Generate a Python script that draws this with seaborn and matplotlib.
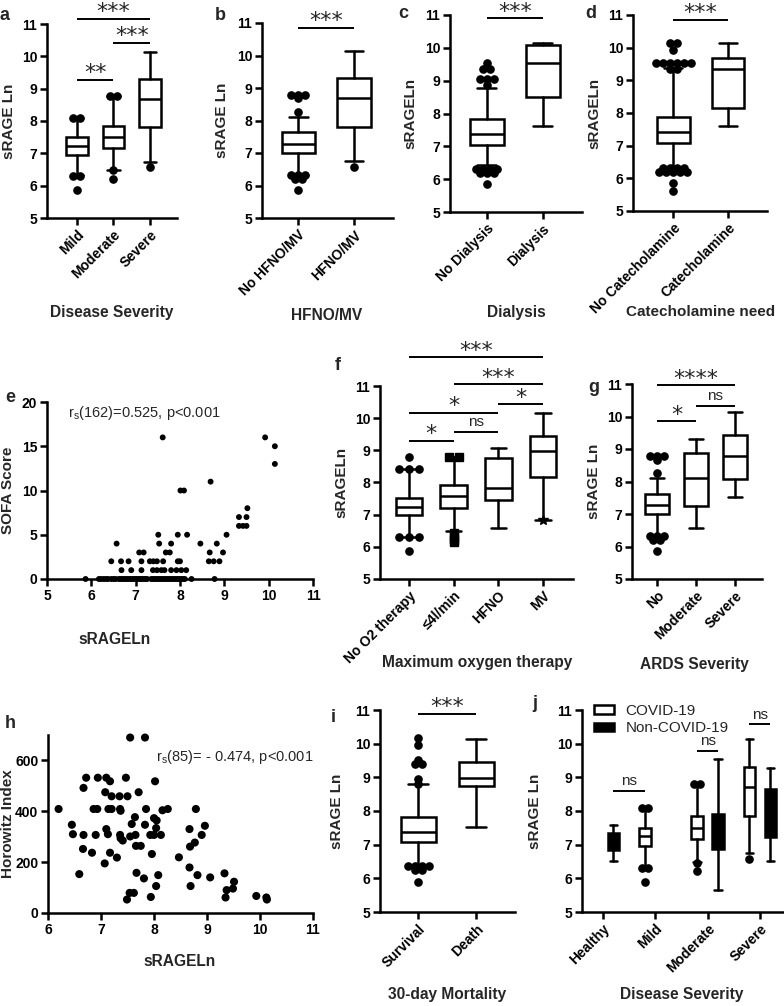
import numpy as np
import pandas as pd
import matplotlib
matplotlib.use("Agg")
import matplotlib.pyplot as plt
import seaborn as sns
from matplotlib.patches import Patch

sns.set_style("ticks")
plt.rcParams['font.family'] = ['Liberation Sans', 'DejaVu Sans']
plt.rcParams['font.weight'] = 'bold'
plt.rcParams['axes.labelweight'] = 'bold'

# ---------------- DATA ----------------
# a: Disease severity
a_cats = ["Mild", "Moderate", "Severe"]
a_med = [7.22, 7.49, 8.68]
a_q1 = [6.96, 7.16, 7.81]
a_q3 = [7.50, 7.86, 9.30]
a_wlo = [6.34, 6.47, 6.73]
a_whi = [8.09, 8.76, 10.13]
a_out = [[8.1, 8.1, 6.3, 6.3, 5.88], [8.78, 8.78, 6.47, 6.2], [6.58]]
a_sig = [(0, 1, 9.28, "**"), (1, 2, 10.41, "***"), (0, 2, 11.15, "***")]

# b: HFNO/MV
b_cats = ["No HFNO/MV", "HFNO/MV"]
b_med = [7.28, 8.68]
b_q1 = [7.01, 7.81]
b_q3 = [7.64, 9.31]
b_wlo = [6.33, 6.76]
b_whi = [8.10, 10.13]
b_out = [[8.78, 8.78, 8.78, 8.68, 8.27, 6.32, 6.32, 6.32, 6.19, 6.19, 5.87], [6.58]]
b_sig = [(0, 1, 10.86, "***")]

# c: Dialysis
c_cats = ["No Dialysis", "Dialysis"]
c_med = [7.39, 9.54]
c_q1 = [7.05, 8.51]
c_q3 = [7.83, 10.08]
c_wlo = [6.44, 7.61]
c_whi = [8.79, 10.16]
c_out = [[9.54, 9.35, 9.35, 9.04, 9.04, 9.04, 8.86, 6.32, 6.32, 6.32, 6.32,
          6.19, 6.19, 6.19, 5.86], []]
c_sig = [(0, 1, 10.90, "***")]

# d: Catecholamine
d_cats = ["No Catecholamine", "Catecholamine"]
d_med = [7.42, 9.34]
d_q1 = [7.09, 8.14]
d_q3 = [7.88, 9.67]
d_wlo = [6.30, 7.60]
d_whi = [9.38, 10.13]
d_out = [[10.13, 10.13, 9.93, 9.54, 9.54, 9.54, 9.54, 9.54, 9.54, 9.36, 9.36,
          6.32, 6.32, 6.32, 6.32, 6.2, 6.2, 6.2, 6.2, 6.2, 5.86, 5.61], []]
d_sig = [(0, 1, 10.85, "***")]

# e: SOFA score vs sRAGELn
e_srage = [5.87, 6.17, 6.22, 6.28, 6.33, 6.38, 6.45, 6.50, 6.55, 6.62, 6.66, 6.70,
           6.74, 6.78, 6.82, 6.86, 6.90, 6.94, 6.98, 7.02, 7.06, 7.10, 7.14, 7.18,
           7.22, 7.26, 7.35, 7.39, 7.43, 7.47, 7.51, 7.55, 7.59, 7.63, 7.67, 7.71,
           7.75, 7.79, 7.83, 7.87, 7.91, 7.95, 7.99, 8.03, 8.07, 8.11, 8.26, 8.78,
           6.68, 6.90, 7.13, 7.39, 7.48, 7.58, 7.65, 7.80, 7.92, 8.03, 8.14,
           6.45, 6.67, 6.84, 7.13, 7.32, 7.40, 7.48, 7.62, 7.95, 8.00, 8.65, 8.76, 8.89,
           7.08, 7.18, 7.68, 7.77, 8.67, 8.97,
           6.57, 7.53, 7.80, 8.46, 8.83,
           7.51, 7.95, 8.16, 9.05,
           9.33, 9.42, 9.50,
           9.33, 9.50,
           9.52,
           8.01, 8.09,
           8.69,
           10.14,
           10.14,
           7.61, 9.92]
e_sofa = ([0] * 48 + [1] * 11 + [2] * 13 + [3] * 6 + [4] * 5 + [5] * 4 + [6] * 3 +
          [7] * 2 + [8] + [10] * 2 + [11] + [13] + [15] + [16] * 2)

# f: Maximum oxygen therapy
f_cats = ["No O2 therapy", "\u22644l/min", "HFNO", "MV"]
f_med = [7.25, 7.58, 7.84, 8.98]
f_q1 = [6.99, 7.22, 7.46, 8.16]
f_q3 = [7.51, 7.92, 8.75, 9.46]
f_wlo = [6.32, 6.50, 6.60, 6.83]
f_whi = [8.41, 8.80, 9.08, 10.17]
f_out = [[8.8, 8.41, 8.41, 8.41, 6.32, 6.32, 6.32, 5.88],
         [8.8, 8.8, 6.42, 6.32, 6.22, 6.15], [], [6.83]]
f_markers = ["o", "s", "o", "*"]
f_sig = [(0, 1, 9.30, "*"), (1, 2, 9.58, "ns"), (0, 2, 10.17, "*"),
         (2, 3, 10.43, "*"), (1, 3, 11.05, "***"), (0, 3, 11.89, "***")]

# g: ARDS severity
g_cats = ["No", "Moderate", "Severe"]
g_med = [7.29, 8.12, 8.77]
g_q1 = [7.00, 7.26, 8.08]
g_q3 = [7.62, 8.87, 9.44]
g_wlo = [6.35, 6.58, 7.51]
g_whi = [8.12, 9.32, 10.13]
g_out = [[8.77, 8.77, 8.77, 8.65, 8.26, 6.32, 6.32, 6.32, 6.2, 6.2, 5.87], [], []]
g_sig = [(0, 1, 9.85, "*"), (1, 2, 10.33, "ns"), (0, 2, 10.96, "****")]

# h: Horowitz index vs sRAGELn
h_srage = [6.20, 6.45, 6.47, 6.67, 6.66, 6.59, 6.72, 6.67, 6.83, 6.86, 6.93, 6.90,
           6.94, 7.07, 7.10, 7.08, 7.10, 7.13, 7.14, 7.20, 7.17, 7.20, 7.17, 7.30,
           7.35, 7.36, 7.37, 7.36, 7.37, 7.41, 7.47, 7.50, 7.49, 7.54, 7.55, 7.55,
           7.58, 7.62, 7.64, 7.65, 7.66, 7.67, 7.71, 7.75, 7.81, 7.83, 7.83, 7.85,
           7.94, 7.96, 7.93, 8.00, 8.00, 8.02, 8.04, 8.04, 8.05, 8.08, 8.13, 8.16,
           8.26, 8.47, 8.67, 8.67, 8.69, 8.68, 8.77, 8.79, 8.82, 8.90, 8.96, 9.06,
           9.33, 9.35, 9.37, 9.49, 9.51, 9.93, 10.12, 10.13]
h_horowitz = [409, 347, 310, 307, 252, 153, 532, 492, 237, 409, 409, 307,
              532, 195, 532, 475, 330, 310, 409, 409, 518, 459, 237, 218,
              459, 409, 402, 307, 294, 285, 532, 459, 53, 79, 690, 301,
              350, 79, 377, 307, 264, 158, 475, 264, 136, 690, 347, 409,
              63, 232, 307, 307, 373, 518, 106, 334, 364, 149, 307, 404,
              409, 219, 179, 330, 106, 261, 277, 409, 149, 307, 343, 140,
              156, 61, 90, 96, 123, 67, 61, 53]

# i: 30-day mortality
i_cats = ["Survival", "Death"]
i_med = [7.37, 8.99]
i_q1 = [7.07, 8.75]
i_q3 = [7.81, 9.45]
i_wlo = [6.39, 7.52]
i_whi = [8.81, 10.13]
i_out = [[10.16, 9.96, 9.52, 9.40, 9.40, 8.94, 8.81, 6.36, 6.36, 6.36, 6.36,
          6.24, 6.24, 5.89], []]
i_sig = [(0, 1, 10.88, "***")]

# j: COVID vs non-COVID by disease severity
j_cats = ["Healthy", "Mild", "Moderate", "Severe"]
j_hue_levels = ["COVID-19", "Non-COVID-19"]
j_group = ["Healthy", "Mild", "Moderate", "Moderate", "Severe", "Severe"]
j_hue = ["Non-COVID-19", "COVID-19", "COVID-19", "Non-COVID-19", "COVID-19", "Non-COVID-19"]
j_med = [7.10, 7.25, 7.49, 7.40, 8.70, 7.95]
j_q1 = [6.85, 6.97, 7.17, 6.87, 7.84, 7.23]
j_q3 = [7.34, 7.49, 7.86, 7.92, 9.30, 8.65]
j_wlo = [6.52, 6.30, 6.50, 5.66, 6.75, 6.52]
j_whi = [7.59, 8.10, 8.80, 9.55, 10.13, 9.27]
j_out = [[], [8.1, 8.1, 6.3, 6.3, 5.88], [8.8, 8.8, 6.47, 6.21], [], [6.58], []]
j_sig = [(0, 1, 8.60, "ns"), (2, 3, 9.79, "ns"), (4, 5, 10.58, "ns")]

# ---------------- LAYOUT ----------------
W, H = 784, 1006
fig = plt.figure(figsize=(W / 100, H / 100), dpi=100)
LW = 1.8


def add_ax(x0, y0, x1, y1):
    return fig.add_axes([x0 / W, 1 - y1 / H, (x1 - x0) / W, (y1 - y0) / H])


def style(ax):
    sns.despine(ax=ax)
    for s in ["left", "bottom"]:
        ax.spines[s].set_linewidth(LW)
        ax.spines[s].set_color("black")
    ax.tick_params(width=LW, length=5, color="black", labelsize=10, pad=2,
                   labelcolor="black")


def px_per_unit(ax):
    bb = ax.get_position()
    lo, hi = ax.get_xlim()
    return bb.width * W / (hi - lo)


def set_labels(ax, xlabel, xpos, ylabel, ylx, letter, letpos, xlsize=11.2):
    ax.set_xlabel(xlabel, fontsize=xlsize, va="center", ha="center")
    ax.xaxis.set_label_coords(xpos[0] / W, 1 - xpos[1] / H, transform=fig.transFigure)
    ax.set_ylabel(ylabel, fontsize=11, va="center", ha="center")
    bb = ax.get_position()
    yc = bb.y0 + bb.height / 2
    ax.yaxis.set_label_coords(ylx / W, yc, transform=fig.transFigure)
    fig.text(letpos[0] / W, 1 - letpos[1] / H, letter, fontsize=13, fontweight="bold",
             ha="center", va="center")


def draw_boxes(ax, pos, med, q1, q3, wlo, whi, outs, width, capw, faces, markers=None,
               spacing_px=7):
    stats = [dict(med=m, q1=a, q3=b, whislo=l, whishi=h, fliers=[])
             for m, a, b, l, h in zip(med, q1, q3, wlo, whi)]
    res = ax.bxp(stats, positions=pos, widths=width, capwidths=capw, showfliers=False,
                 patch_artist=True, manage_ticks=False,
                 boxprops=dict(linewidth=LW, edgecolor="black"),
                 whiskerprops=dict(linewidth=LW, color="black"),
                 capprops=dict(linewidth=LW, color="black"),
                 medianprops=dict(linewidth=LW, color="black"))
    for patch, fc in zip(res["boxes"], faces):
        patch.set_facecolor(fc)
    if markers is None:
        markers = ["o"] * len(pos)
    sp = spacing_px / px_per_unit(ax)
    for p, vals, mk in zip(pos, outs, markers):
        if not vals:
            continue
        vals = np.asarray(vals, dtype=float)
        for v in np.unique(vals):
            n = int(np.sum(vals == v))
            offs = (np.arange(n) - (n - 1) / 2) * sp
            ms = 7.5 if mk == "*" else 5.2
            ax.plot(p + offs, [v] * n, ls="none", marker=mk, ms=ms, color="black",
                    mec="black", clip_on=False, zorder=5)


def draw_sig(ax, x1, x2, y, txt):
    ax.plot([x1, x2], [y, y], color="black", lw=1.4, clip_on=False, solid_capstyle="butt")
    if "*" in txt:
        ax.annotate(txt, xy=((x1 + x2) / 2, y), xytext=(0, 0.5), textcoords="offset points",
                    ha="center", va="baseline", fontsize=16, fontweight="normal",
                    family="DejaVu Sans", annotation_clip=False)
    else:
        ax.annotate(txt, xy=((x1 + x2) / 2, y), xytext=(0, 4), textcoords="offset points",
                    ha="center", va="baseline", fontsize=11, fontweight="normal",
                    annotation_clip=False)


def box_panel(rect, cats, med, q1, q3, wlo, whi, outs, sig, xlim, xlabel, xpos, ylabel,
              ylx, letter, letpos, markers=None, spacing_px=7, xlsize=11.2):
    ax = add_ax(*rect)
    ax.set_xlim(*xlim)
    ax.set_ylim(5, 11)
    ax.set_yticks(range(5, 12))
    pos = list(range(len(cats)))
    draw_boxes(ax, pos, med, q1, q3, wlo, whi, outs, 0.6, 0.34, ["white"] * len(cats),
               markers, spacing_px)
    for i1, i2, y, t in sig:
        draw_sig(ax, pos[i1], pos[i2], y, t)
    ax.set_xticks(pos)
    ax.set_xticklabels(cats, rotation=45, ha="right", rotation_mode="anchor", fontsize=10.8)
    style(ax)
    set_labels(ax, xlabel, xpos, ylabel, ylx, letter, letpos, xlsize)
    return ax


# a
box_panel((47, 24, 177, 218), a_cats, a_med, a_q1, a_q3, a_wlo, a_whi, a_out, a_sig,
          (-0.82, 2.74), "Disease Severity", (112, 313), "sRAGE Ln", 9, "a", (5, 16))
# b
box_panel((262, 23, 393, 218), b_cats, b_med, b_q1, b_q3, b_wlo, b_whi, b_out, b_sig,
          (-0.65, 1.7), "HFNO/MV", (327, 315), "sRAGE Ln", 222, "b", (220, 15))
# c
box_panel((450, 15, 582, 212), c_cats, c_med, c_q1, c_q3, c_wlo, c_whi, c_out, c_sig,
          (-0.66, 1.7), "Dialysis", (516, 313), "sRAGELn", 410, "c", (403, 14))
# d
box_panel((633, 15, 767, 211), d_cats, d_med, d_q1, d_q3, d_wlo, d_whi, d_out, d_sig,
          (-0.73, 1.71), "Catecholamine need", (701, 312), "sRAGELn", 594, "d", (591, 13),
          xlsize=11.0)

# e scatter
ax = add_ax(47, 402, 313, 579)
sns.scatterplot(x=e_srage, y=e_sofa, ax=ax, color="black", s=18, edgecolor="none",
                clip_on=False, zorder=5)
ax.set_xlim(5, 11)
ax.set_ylim(0, 20)
ax.set_xticks(range(5, 12))
ax.set_yticks(range(0, 21, 5))
style(ax)
set_labels(ax, "sRAGELn", (115, 640), "SOFA Score", 8, "e", (10, 398))
ax.text(68 / W, 1 - 413 / H, "r$_\\mathregular{s}$(162)=0.525, p<0.001", transform=fig.transFigure,
        fontsize=10.5, fontweight="normal", ha="left", va="center")

# f
box_panel((380, 386, 573, 579), f_cats, f_med, f_q1, f_q3, f_wlo, f_whi, f_out, f_sig,
          (-0.65, 3.67), "Maximum oxygen therapy", (477, 663), "sRAGELn", 341, "f", (338, 366),
          markers=f_markers, spacing_px=10)
# g
box_panel((632, 384, 762, 579), g_cats, g_med, g_q1, g_q3, g_wlo, g_whi, g_out, g_sig,
          (-0.64, 2.69), "ARDS Severity", (694, 665), "sRAGE Ln", 594, "g", (594, 387))

# h scatter
ax = add_ax(48, 735, 313, 913)
sns.scatterplot(x=h_srage, y=h_horowitz, ax=ax, color="black", s=34, edgecolor="none",
                clip_on=False, zorder=5)
ax.set_xlim(6, 11)
ax.set_ylim(0, 700)
ax.set_xticks(range(6, 12))
ax.set_yticks([0, 200, 400, 600])
style(ax)
set_labels(ax, "sRAGELn", (180, 962), "Horowitz Index", 8, "h", (10, 724))
ax.text(313 / W, 1 - 757 / H, "r$_\\mathregular{s}$(85)= - 0.474, p<0.001", transform=fig.transFigure,
        fontsize=10.5, fontweight="normal", ha="right", va="center")

# i
box_panel((380, 710, 515, 912), i_cats, i_med, i_q1, i_q3, i_wlo, i_whi, i_out, i_sig,
          (-0.66, 1.67), "30-day Mortality", (447, 995), "sRAGE Ln", 337, "i", (333, 717))

# j grouped boxes
ax = add_ax(582, 710, 784, 912)
ax.set_xlim(-0.4, 3.46)
ax.set_ylim(5, 11)
ax.set_yticks(range(5, 12))
j_pos = [j_cats.index(g) + (-0.2 if h == "COVID-19" else 0.2) for g, h in zip(j_group, j_hue)]
j_faces = ["white" if h == "COVID-19" else "black" for h in j_hue]
draw_boxes(ax, j_pos, j_med, j_q1, j_q3, j_wlo, j_whi, j_out, 0.22, 0.14, j_faces,
           spacing_px=6)
for i1, i2, y, t in j_sig:
    draw_sig(ax, j_pos[i1], j_pos[i2], y, t)
ax.set_xticks(range(len(j_cats)))
ax.set_xticklabels(j_cats, rotation=45, ha="right", rotation_mode="anchor", fontsize=10.8)
style(ax)
set_labels(ax, "Disease Severity", (682, 995), "sRAGE Ln", 535, "j", (535, 703))
handles = [Patch(facecolor="white" if h == "COVID-19" else "black", edgecolor="black",
                 linewidth=LW, label=h) for h in j_hue_levels]
leg = ax.legend(handles=handles, loc="upper left", bbox_to_anchor=(586 / W, 1 - 696 / H),
                bbox_transform=fig.transFigure, frameon=False, handlelength=1.3,
                handleheight=0.5, handletextpad=0.8, labelspacing=0.25, borderpad=0,
                prop=dict(size=11, weight="normal"))

fig.savefig("out.png", dpi=100)
